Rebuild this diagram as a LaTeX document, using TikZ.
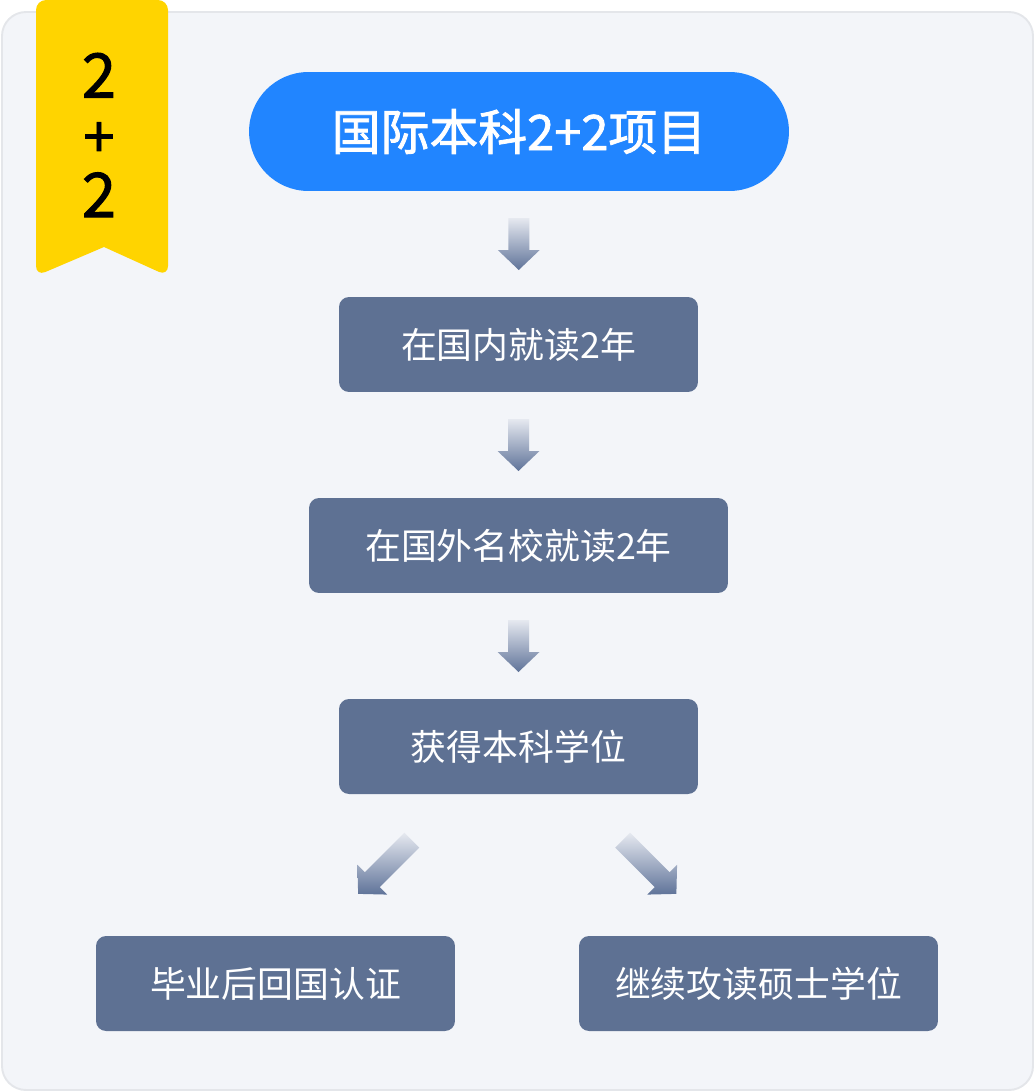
\documentclass[tikz,border=0pt]{standalone}
\usepackage{fontspec}
\newfontfamily\cjk{Noto Sans CJK SC}
\newfontfamily\cjkheavy[FakeBold=1.6]{Noto Sans CJK SC}
\usetikzlibrary{calc}
\definecolor{cardbg}{HTML}{F3F5F9}
\definecolor{cardline}{HTML}{E4E6EA}
\definecolor{ribbon}{HTML}{FFD400}
\definecolor{headblue}{HTML}{2185FF}
\definecolor{slate}{HTML}{5E7193}
\definecolor{arrowlight}{HTML}{E6E9F0}
\definecolor{arrowdark}{HTML}{5F7399}
\tikzset{
	pics/blockarrow/.style={code={
		\shade[top color=arrowlight,bottom color=arrowdark]
			(-10.5,-#1/2) -- (10.5,-#1/2) -- (10.5,#1/2-20) -- (21,#1/2-20) -- (0,#1/2)
			-- (-21,#1/2-20) -- (-10.5,#1/2-20) -- cycle;
	}}
}
\begin{document}
\begin{tikzpicture}[x=0.02cm,y=-0.02cm,
		stagebox/.style={fill=slate,rounded corners=0.2cm,minimum height=1.9cm,minimum width=7.18cm,
			text=white,font=\cjk\fontsize{20.4}{24}\selectfont,inner sep=0pt}]
	\useasboundingbox (0,0) rectangle (1035,1092);
	\draw[fill=cardbg,draw=cardline,line width=1.1pt,rounded corners=0.48cm] (2,12) rectangle (1033,1090);
	\fill[ribbon,rounded corners=0.2cm] (36,0) -- (168,0) -- (168,276) [sharp corners] -- (104,247) [rounded corners=0.2cm] -- (36,276) -- cycle;
	\node[align=center,font=\cjkheavy\fontsize{35}{34}\selectfont,inner sep=0pt] (badge) at (99,135)
		{2\\{\fontsize{32}{34}\selectfont+}\\2};
	\node[fill=headblue,rounded corners=1.19cm,minimum width=10.8cm,minimum height=2.38cm,inner sep=0pt,
		text=white,font=\cjkheavy\fontsize{27.8}{32}\selectfont] (title) at (519,131.5) {国际本科2+2项目};
	\node[stagebox] (s1) at (518.5,344.5) {在国内就读2年};
	\node[stagebox,minimum width=8.38cm] (s2) at (518.5,545.5) {在国外名校就读2年};
	\node[stagebox] (s3) at (518.5,746.5) {获得本科学位};
	\node[stagebox] (s4) at (275.5,983.5) {毕业后回国认证};
	\node[stagebox] (s5) at (758.5,983.5) {继续攻读硕士学位};
	\pic at ($(title.south)!0.5!(s1.north)$) {blockarrow=52};
	\pic at ($(s1.south)!0.5!(s2.north)$) {blockarrow=52};
	\pic at ($(s2.south)!0.5!(s3.north)$) {blockarrow=52};
	\pic[rotate=-45] at ($(s3.south)!0.5!(s4.north)+(-12,2)$) {blockarrow=76};
	\pic[rotate=45] at ($(s3.south)!0.5!(s5.north)+(11,2)$) {blockarrow=76};
\end{tikzpicture}
\end{document}
